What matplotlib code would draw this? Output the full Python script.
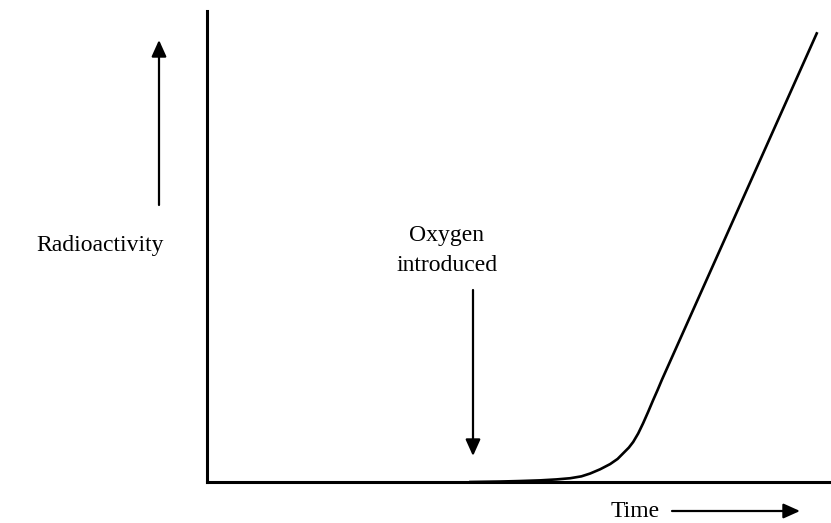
import numpy as np
import matplotlib.pyplot as plt

plt.rcParams['font.family'] = ['Liberation Serif', 'DejaVu Serif']

# curve (arbitrary units, x: time, y: radioactivity)
time_pts = [42.0, 47.0, 50.0, 53.4, 56.0, 58.2, 60.0, 61.4, 63.0, 64.6, 65.8, 66.7,
            67.6, 68.3, 69.1, 69.9, 70.7, 71.5, 72.2, 72.9, 97.8]
activity_pts = [0.0, 0.1, 0.2, 0.35, 0.55, 0.8, 1.2, 1.8, 2.7, 3.8, 4.9, 6.1,
                7.3, 8.5, 10.3, 12.5, 14.9, 17.4, 19.5, 21.7, 95.5]

label_y = 'Radioactivity'
label_x = 'Time'
note = ['Oxygen', 'introduced']

W, H = 831, 523
fig = plt.figure(figsize=(W / 100, H / 100), dpi=100)
ax = fig.add_axes([207 / W, (H - 482) / H, (W - 207) / W, (482 - 11) / H])

ax.plot(time_pts, activity_pts, color='black', lw=1.9, solid_capstyle='butt')
ax.set_xlim(0, 100)
ax.set_ylim(0, 100)
for s in ['top', 'right']:
    ax.spines[s].set_visible(False)
for s in ['left', 'bottom']:
    ax.spines[s].set_linewidth(2.2)
ax.set_xticks([])
ax.set_yticks([])

arrow = dict(arrowstyle='-|>,head_length=1.0,head_width=0.45', color='black', lw=1.6,
             shrinkA=0, shrinkB=0)

fs = 17

# y-label with upward arrow
fig.text(100 / W, (H - 251) / H, label_y, ha='center', va='baseline', fontsize=fs)
ax.annotate('', xy=(159, H - 40), xytext=(159, H - 205),
            xycoords='figure pixels', textcoords='figure pixels', arrowprops=arrow)

# x-label with right arrow
fig.text(660 / W, (H - 517) / H, label_x, ha='right', va='baseline', fontsize=fs)
ax.annotate('', xy=(800, H - 511), xytext=(672, H - 511),
            xycoords='figure pixels', textcoords='figure pixels', arrowprops=arrow)

# oxygen note
fig.text(447 / W, (H - 241) / H, note[0], ha='center', va='baseline', fontsize=fs)
fig.text(447 / W, (H - 271) / H, note[1], ha='center', va='baseline', fontsize=fs)
ax.annotate('', xy=(473, H - 456), xytext=(473, H - 290),
            xycoords='figure pixels', textcoords='figure pixels', arrowprops=arrow)

fig.savefig('out.png', dpi=100)
